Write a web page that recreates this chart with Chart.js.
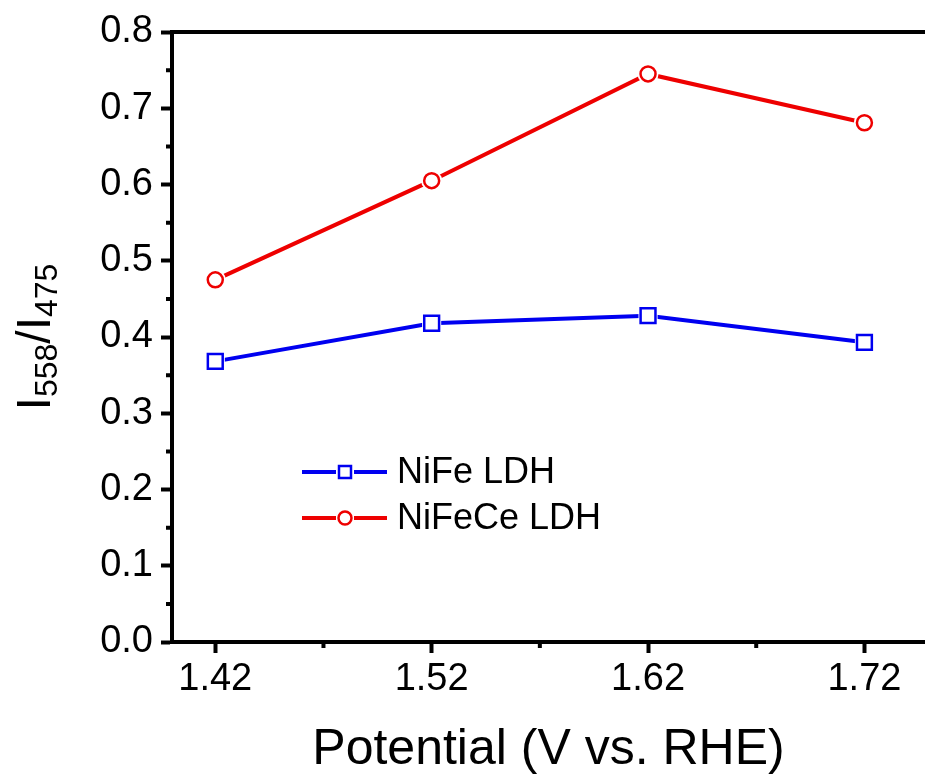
<!DOCTYPE html>
<html>
<head>
<meta charset="utf-8">
<script src="https://cdn.jsdelivr.net/npm/chart.js@4.4.1/dist/chart.umd.min.js"></script>
<style>
  html, body { margin: 0; padding: 0; background: #fff; }
</style>
</head>
<body>
<canvas id="chartRatio" width="925" height="778"></canvas>
<script>
// datos
const potential = [1.42, 1.52, 1.62, 1.72];
const nifeLDH = [0.368, 0.418, 0.428, 0.393];
const nifeceLDH = [0.475, 0.605, 0.745, 0.681];
const seriesNames = ['NiFe LDH', 'NiFeCe LDH'];
const xTicks = [1.42, 1.52, 1.62, 1.72];
const xMinor = [1.47, 1.57, 1.67];
const yTicks = [0, 0.1, 0.2, 0.3, 0.4, 0.5, 0.6, 0.7, 0.8];
const yMinor = [0.05, 0.15, 0.25, 0.35, 0.45, 0.55, 0.65, 0.75];

const colorBlue = '#0000f0';
const colorRed = '#ee0000';
const fontFamily = "'Liberation Sans', Arial, sans-serif";

const points = vals => potential.map((x, i) => ({ x: x, y: vals[i] }));

// marcas menores, borde superior, título Y y leyenda
const decorPlugin = {
    id: 'decor',
    afterDraw(chart) {
        const ctx = chart.ctx;
        const xs = chart.scales.x, ys = chart.scales.y;
        const area = chart.chartArea;
        ctx.save();
        ctx.strokeStyle = '#000';
        ctx.lineWidth = 4;
        // borde superior
        ctx.beginPath();
        ctx.moveTo(area.left - 2, area.top);
        ctx.lineTo(area.right, area.top);
        ctx.stroke();
        // marcas menores
        ctx.beginPath();
        yMinor.forEach(v => {
            const py = ys.getPixelForValue(v);
            ctx.moveTo(area.left, py);
            ctx.lineTo(area.left - 6, py);
        });
        xMinor.forEach(v => {
            const px = xs.getPixelForValue(v);
            ctx.moveTo(px, area.bottom);
            ctx.lineTo(px, area.bottom + 6);
        });
        ctx.stroke();

        // título del eje Y con subíndices
        ctx.translate(50, (area.top + area.bottom) / 2);
        ctx.rotate(-Math.PI / 2);
        ctx.fillStyle = '#000';
        ctx.textBaseline = 'alphabetic';
        const big = '48px ' + fontFamily, small = '32px ' + fontFamily;
        const parts = [['I', big, 0], ['558', small, 7], ['/', big, 0], ['I', big, 0], ['475', small, 7]];
        let total = 0;
        parts.forEach(p => { ctx.font = p[1]; total += ctx.measureText(p[0]).width; });
        let cx = -total / 2;
        parts.forEach(p => {
            ctx.font = p[1];
            ctx.fillText(p[0], cx, p[2]);
            cx += ctx.measureText(p[0]).width;
        });
        ctx.restore();

        // leyenda
        ctx.save();
        const rows = [
            { y: 472, color: colorBlue, shape: 'rect', label: seriesNames[0] },
            { y: 518, color: colorRed, shape: 'circle', label: seriesNames[1] }
        ];
        rows.forEach(r => {
            ctx.strokeStyle = r.color;
            ctx.lineWidth = 4;
            ctx.beginPath();
            ctx.moveTo(302, r.y); ctx.lineTo(336, r.y);
            ctx.moveTo(354, r.y); ctx.lineTo(387, r.y);
            ctx.stroke();
            ctx.lineWidth = 2.5;
            ctx.fillStyle = '#fff';
            ctx.beginPath();
            if (r.shape === 'rect') ctx.rect(339, r.y - 6, 12, 12);
            else ctx.arc(345, r.y, 6.5, 0, Math.PI * 2);
            ctx.fill();
            ctx.stroke();
            ctx.fillStyle = '#000';
            ctx.font = '36px ' + fontFamily;
            ctx.textBaseline = 'middle';
            ctx.fillText(r.label, 397, r.y + 1);
        });
        ctx.restore();
    }
};

const lineDataset = (label, vals, color, shape, radius) => ({
    label: label,
    data: points(vals),
    borderColor: color,
    borderWidth: 4,
    showLine: true,
    pointStyle: shape,
    pointRadius: radius + 3,
    pointBorderWidth: 0,
    pointBackgroundColor: '#fff',
    order: 2
});
const markerDataset = (label, vals, color, shape, radius) => ({
    label: label,
    data: points(vals),
    showLine: false,
    pointStyle: shape,
    pointRadius: radius,
    pointBorderWidth: 2.5,
    pointBorderColor: color,
    pointBackgroundColor: '#fff',
    order: 1
});

new Chart(document.getElementById('chartRatio'), {
    type: 'scatter',
    data: {
        datasets: [
            lineDataset(seriesNames[0], nifeLDH, colorBlue, 'rect', 10.5),
            markerDataset(seriesNames[0], nifeLDH, colorBlue, 'rect', 10.5),
            lineDataset(seriesNames[1], nifeceLDH, colorRed, 'circle', 7.5),
            markerDataset(seriesNames[1], nifeceLDH, colorRed, 'circle', 7.5)
        ]
    },
    options: {
        responsive: false,
        animation: false,
        devicePixelRatio: 1,
        layout: { autoPadding: false, padding: { top: 32, right: 0, left: 0, bottom: 0 } },
        plugins: {
            legend: { display: false },
            tooltip: { enabled: false }
        },
        scales: {
            x: {
                type: 'linear',
                position: 'bottom',
                min: 1.40,
                max: 1.748,
                afterBuildTicks: s => { s.ticks = xTicks.map(v => ({ value: v })); },
                afterFit: s => { s.height = 136; s.paddingLeft = 0; s.paddingRight = 0; },
                ticks: {
                    color: '#000',
                    font: { family: fontFamily, size: 38 },
                    padding: 4,
                    maxRotation: 0,
                    callback: v => Number(v).toFixed(2)
                },
                grid: { drawOnChartArea: false, drawTicks: true, tickLength: 11, tickWidth: 4, tickColor: '#000' },
                border: { display: true, width: 4, color: '#000' },
                title: {
                    display: true,
                    text: 'Potential (V vs. RHE)',
                    color: '#000',
                    font: { family: fontFamily, size: 50, lineHeight: 1.1 },
                    padding: 0
                }
            },
            y: {
                min: 0,
                max: 0.8,
                afterBuildTicks: s => { s.ticks = yTicks.map(v => ({ value: v })); },
                afterFit: s => { s.width = 172; s.paddingTop = 0; s.paddingBottom = 0; },
                ticks: {
                    color: '#000',
                    font: { family: fontFamily, size: 38 },
                    padding: 8,
                    callback: v => Number(v).toFixed(1)
                },
                grid: { drawOnChartArea: false, drawTicks: true, tickLength: 11, tickWidth: 4, tickColor: '#000' },
                border: { display: true, width: 4, color: '#000' }
            }
        }
    },
    plugins: [decorPlugin]
});
</script>
</body>
</html>
